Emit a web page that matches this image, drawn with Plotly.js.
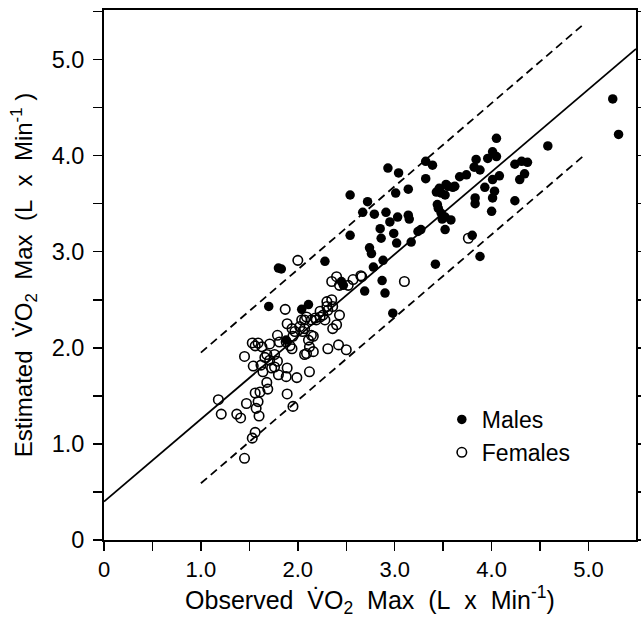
<!DOCTYPE html>
<html>
<head>
<meta charset="utf-8">
<script src="https://cdn.plot.ly/plotly-3.0.1.min.js"></script>
<style>
  html, body { margin: 0; padding: 0; background: #ffffff; }
  #chart { width: 641px; height: 619px; }
</style>
</head>
<body>
<div id="chart"></div>
<script>
// Males: observed vs estimated VO2 max (L/min)
const maleObserved = [5.25, 5.31, 4.58, 4.05, 4.01, 3.96, 4.05, 3.84, 3.82, 3.88, 3.74, 3.67, 3.62, 4.24, 4.31, 4.37, 4.34, 4.29, 4.08, 4.01,
  3.93, 4.03, 4.01, 3.83, 3.83, 4.24, 4.00, 3.88, 3.42, 3.60, 3.55, 3.46, 3.43, 3.52, 3.45, 3.48, 3.52, 3.58, 3.52, 3.27,
  3.32, 3.39, 3.32, 2.93, 3.04, 3.14, 3.01, 2.72, 2.67, 2.79, 2.91, 2.95, 3.03, 3.14, 3.15, 2.85, 2.86, 2.99, 3.02, 3.17,
  2.74, 2.76, 2.88, 2.78, 2.54, 2.54, 2.28, 2.69, 2.87, 2.90, 2.98, 3.80, 1.80, 1.83, 1.70, 2.04, 2.11, 1.88, 2.45, 2.47,
  3.24, 3.53, 3.48, 3.49, 3.44];
const maleEstimated = [4.59, 4.22, 4.10, 4.18, 4.04, 3.97, 3.99, 3.96, 3.88, 3.85, 3.80, 3.78, 3.68, 3.91, 3.94, 3.93, 3.81, 3.75, 3.79, 3.75,
  3.67, 3.63, 3.56, 3.56, 3.50, 3.53, 3.42, 2.95, 2.87, 3.67, 3.68, 3.66, 3.62, 3.59, 3.45, 3.40, 3.36, 3.33, 3.23, 3.23,
  3.94, 3.90, 3.76, 3.87, 3.82, 3.65, 3.61, 3.52, 3.41, 3.39, 3.41, 3.31, 3.36, 3.38, 3.34, 3.24, 3.14, 3.19, 3.09, 3.10,
  3.04, 2.98, 2.91, 2.84, 3.59, 3.17, 2.90, 2.59, 2.70, 2.57, 2.36, 3.17, 2.83, 2.82, 2.43, 2.40, 2.45, 2.08, 2.69, 2.65,
  3.21, 3.70, 3.61, 3.34, 3.49];

// Females
const femaleObserved = [1.18, 1.21, 1.37, 1.41, 1.45, 1.56, 1.53, 1.60, 1.47, 1.57, 1.59, 1.56, 1.61, 1.69, 1.68, 1.89, 1.95, 1.45, 1.54, 1.64,
  1.62, 1.73, 1.76, 1.80, 1.88, 1.89, 1.99, 1.66, 1.68, 1.76, 1.79, 1.71, 1.56, 1.63, 1.71, 1.92, 1.94, 1.88, 2.07, 2.12,
  2.00, 1.87, 1.89, 1.94, 1.97, 2.02, 2.05, 2.07, 2.09, 2.14, 2.16, 2.11, 2.12, 2.16, 2.09, 1.59, 1.79, 1.81, 2.30, 2.35,
  2.30, 2.23, 2.26, 2.31, 2.36, 2.40, 2.35, 2.52, 2.57, 2.66, 2.43, 2.36, 2.40, 2.31, 2.42, 2.50, 2.19, 2.23, 2.28, 3.10,
  3.76, 2.65, 1.95, 2.04, 2.18, 2.07, 2.14, 2.43, 1.53];
const femaleEstimated = [1.46, 1.31, 1.31, 1.27, 0.85, 1.12, 1.06, 1.29, 1.42, 1.37, 1.44, 1.53, 1.54, 1.57, 1.64, 1.52, 1.39, 1.91, 1.81, 1.75,
  1.82, 1.79, 1.80, 1.72, 1.70, 1.79, 1.69, 1.90, 1.93, 1.93, 1.86, 1.87, 2.02, 2.01, 2.04, 2.02, 1.99, 2.06, 1.93, 1.75,
  2.91, 2.40, 2.25, 2.20, 2.17, 2.22, 2.17, 2.29, 2.32, 2.29, 2.12, 2.08, 2.01, 1.96, 1.94, 2.05, 2.13, 2.06, 2.48, 2.50,
  2.43, 2.38, 2.34, 2.39, 2.43, 2.74, 2.69, 2.65, 2.71, 2.74, 2.34, 2.20, 2.24, 1.99, 2.03, 1.98, 2.29, 2.32, 2.29, 2.69,
  3.14, 2.75, 2.12, 2.29, 2.31, 2.20, 2.13, 2.65, 2.05];

// Regression line and confidence limits
const regX = [0, 5.49];
const regY = [0.40, 5.11];
const upperX = [1.0, 4.93];
const upperY = [1.95, 5.35];
const lowerX = [1.0, 4.94];
const lowerY = [0.59, 3.99];

// Tick labels
const tickVals = [0, 1.0, 2.0, 3.0, 4.0, 5.0];
const tickText = ['0', '1.0', '2.0', '3.0', '4.0', '5.0'];

const FONT = 'Liberation Sans, Arial, Helvetica, sans-serif';
const NB = '\u00A0';

const traces = [
  {x: regX, y: regY, mode: 'lines', line: {color: '#000', width: 1.8}, showlegend: false, hoverinfo: 'skip'},
  {x: upperX, y: upperY, mode: 'lines', line: {color: '#000', width: 1.8, dash: '8px,5px'}, showlegend: false, hoverinfo: 'skip'},
  {x: lowerX, y: lowerY, mode: 'lines', line: {color: '#000', width: 1.8, dash: '8px,5px'}, showlegend: false, hoverinfo: 'skip'},
  {x: maleObserved, y: maleEstimated, mode: 'markers', name: 'Males',
   marker: {symbol: 'circle', size: 9.5, color: '#000'}},
  {x: femaleObserved, y: femaleEstimated, mode: 'markers', name: 'Females',
   marker: {symbol: 'circle-open', size: 9.5, color: '#000', line: {width: 1.6, color: '#000'}}}
];

const axisCommon = {
  showgrid: false, zeroline: false, showline: true, linecolor: '#000', linewidth: 2,
  ticks: 'outside', ticklen: 9, tickwidth: 1.5, tickcolor: '#000',
  tickmode: 'array', tickvals: tickVals, ticktext: tickText,
  minor: {tickmode: 'linear', tick0: 0, dtick: 0.5, ticks: 'outside', ticklen: 9, tickwidth: 1.5, tickcolor: '#000', showgrid: false}
};

const layout = {
  width: 641, height: 619,
  margin: {l: 104, r: 5, t: 10, b: 79},
  paper_bgcolor: '#fff', plot_bgcolor: '#fff',
  font: {family: FONT, color: '#000'},
  xaxis: Object.assign({}, axisCommon, {
    range: [0, 5.49], mirror: true,
    tickfont: {family: FONT, size: 22, color: '#000'},
    title: {text: 'Observed' + NB + NB + 'V\u0307O<sub>2</sub>' + NB + NB + 'Max' + NB + NB + '(L' + NB + NB + 'x' + NB + NB + 'Min<sup>-1</sup>)',
            font: {family: FONT, size: 25, color: '#000'}, standoff: 9}
  }),
  yaxis: Object.assign({}, axisCommon, {
    range: [0, 5.515], mirror: 'ticks',
    tickfont: {family: FONT, size: 23.5, color: '#000'},
    ticklabelstandoff: 4,
    title: {text: 'Estimated' + NB + NB + 'V\u0307O<sub>2</sub>' + NB + NB + 'Max' + NB + NB + '(L' + NB + NB + 'x' + NB + NB + 'Min<sup>-1</sup>' + NB + ')',
            font: {family: FONT, size: 24, color: '#000'}, standoff: 12}
  }),
  showlegend: true,
  legend: {x: 0.635, y: 0.268, xanchor: 'left', yanchor: 'top', bgcolor: 'rgba(0,0,0,0)',
           font: {family: FONT, size: 23, color: '#000'}, tracegroupgap: 0, itemwidth: 30}
};

Plotly.newPlot('chart', traces, layout, {staticPlot: true, displayModeBar: false});
</script>
</body>
</html>
